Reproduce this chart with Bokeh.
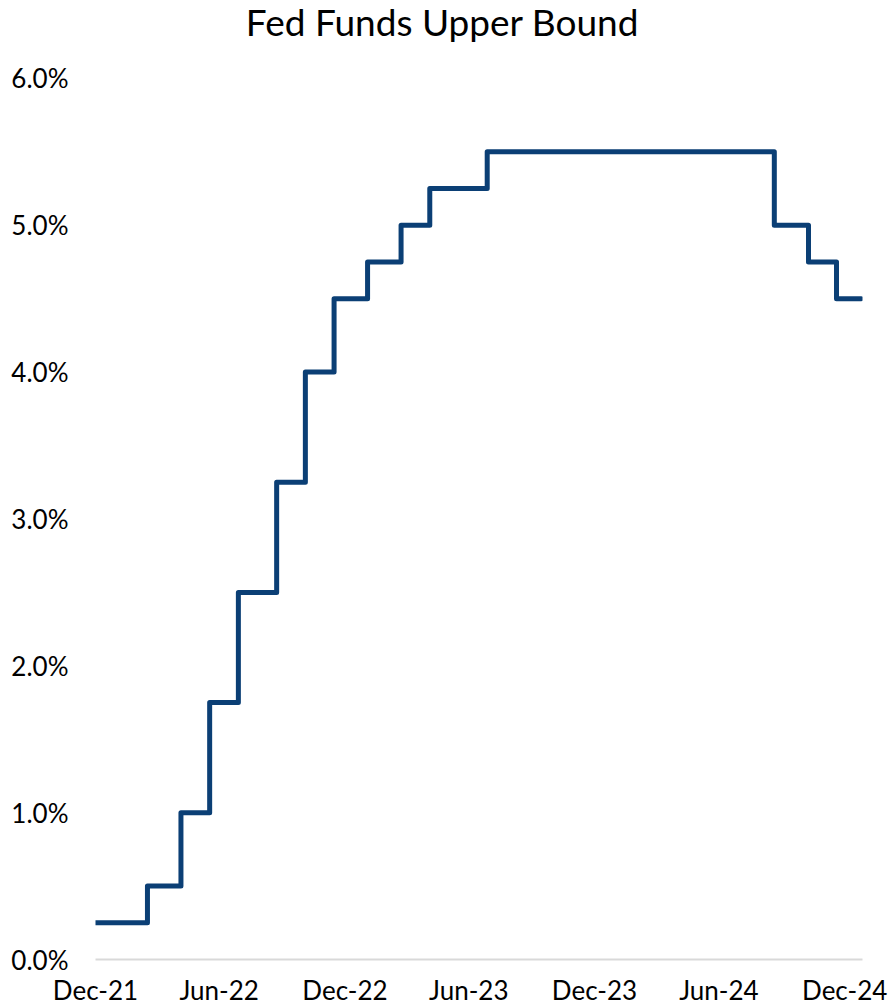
from datetime import datetime
from bokeh.plotting import figure
from bokeh.models import FixedTicker, DatetimeTickFormatter, PrintfTickFormatter, Range1d, Label
from bokeh.embed import file_html
from bokeh.resources import INLINE

# Fed funds upper bound (%), effective dates of changes
change_dates = ["2021-12-31", "2022-03-17", "2022-05-05", "2022-06-16", "2022-07-28",
                "2022-09-22", "2022-11-03", "2022-12-15", "2023-02-02", "2023-03-23",
                "2023-05-04", "2023-07-27", "2024-09-19", "2024-11-08", "2024-12-19",
                "2025-01-24"]
upper_bound = [0.25, 0.50, 1.00, 1.75, 2.50, 3.25, 4.00, 4.50, 4.75, 5.00,
               5.25, 5.50, 5.00, 4.75, 4.50, 4.50]

tick_dates = ["2021-12-31", "2022-06-30", "2022-12-31", "2023-06-30",
              "2023-12-31", "2024-06-30", "2024-12-31"]
y_ticks = [0, 1, 2, 3, 4, 5, 6]

title_text = "Fed Funds Upper Bound"
x_start, x_end = "2021-12-31", "2025-01-26"

def d(s):
    return datetime.strptime(s, "%Y-%m-%d")

def ms(s):
    return (d(s) - datetime(1970, 1, 1)).total_seconds() * 1000.0

FONT = "Lato"
NAVY = "#0B3F75"

# layout (pixels): frame spans the full height above the x axis; the title
# sits inside the frame's top band, above the 6.0% level
W, H = 888, 1008
LEFT, RIGHT, BOTTOM = 95, 26, 48
frame_h = H - BOTTOM
px_per_unit = 147.0
y_top = frame_h / px_per_unit

p = figure(width=W, height=H, x_axis_type="datetime",
           output_backend="svg", toolbar_location=None,
           x_range=Range1d(d(x_start), d(x_end)), y_range=Range1d(0, y_top),
           min_border_left=LEFT, min_border_right=RIGHT, min_border_top=0,
           min_border_bottom=BOTTOM)

p.step([d(s) for s in change_dates], upper_bound, mode="after",
       line_color=NAVY, line_width=5, line_join="round", line_cap="round")

p.add_layout(Label(x=347, y=frame_h - 22, x_units="screen", y_units="screen",
                   text=title_text, text_font=FONT, text_font_size="37px",
                   text_color="#000000", text_align="center",
                   text_baseline="alphabetic"))

p.outline_line_color = None
p.xgrid.grid_line_color = None
p.ygrid.grid_line_color = None
p.background_fill_color = "white"
p.border_fill_color = "white"

xa = p.xaxis[0]
xa.ticker = FixedTicker(ticks=[ms(s) for s in tick_dates])
fmt = "%b-%y"
xa.formatter = DatetimeTickFormatter(days=fmt, months=fmt, years=fmt, hours=fmt,
                                     minutes=fmt, seconds=fmt, milliseconds=fmt,
                                     microseconds=fmt, minsec=fmt, hourmin=fmt)
xa.axis_line_color = "#D9D9D9"
xa.axis_line_width = 2
xa.major_tick_line_color = None
xa.minor_tick_line_color = None
xa.major_label_text_font = FONT
xa.major_label_text_font_size = "26px"
xa.major_label_text_color = "#000000"
xa.major_label_standoff = 8

ya = p.yaxis[0]
ya.ticker = FixedTicker(ticks=y_ticks)
ya.formatter = PrintfTickFormatter(format="%.1f%%")
ya.axis_line_color = None
ya.major_tick_line_color = None
ya.minor_tick_line_color = None
ya.major_label_text_font = FONT
ya.major_label_text_font_size = "26px"
ya.major_label_text_color = "#000000"
ya.major_label_standoff = 21

open("out.html", "w").write(file_html(p, INLINE))
